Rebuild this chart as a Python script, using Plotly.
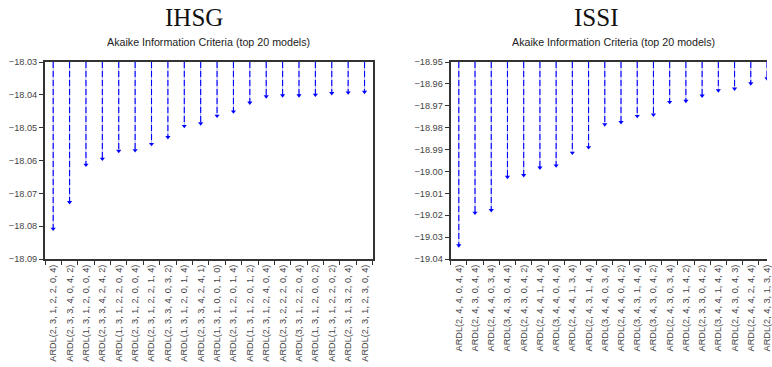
import plotly.graph_objects as go
from plotly.subplots import make_subplots

# ---------------- data ----------------
ihsg_models = [
    "ARDL(2, 3, 1, 2, 2, 0, 4)", "ARDL(2, 3, 3, 4, 0, 4, 2)", "ARDL(1, 3, 1, 2, 0, 0, 4)",
    "ARDL(2, 3, 3, 4, 2, 4, 2)", "ARDL(1, 3, 1, 2, 2, 0, 4)", "ARDL(2, 3, 1, 2, 0, 0, 4)",
    "ARDL(2, 3, 1, 2, 2, 1, 4)", "ARDL(2, 3, 3, 4, 0, 3, 2)", "ARDL(1, 3, 1, 2, 0, 1, 4)",
    "ARDL(2, 3, 3, 4, 2, 4, 1)", "ARDL(1, 3, 1, 0, 0, 1, 0)", "ARDL(2, 3, 1, 2, 0, 1, 4)",
    "ARDL(1, 3, 1, 2, 0, 1, 2)", "ARDL(2, 3, 1, 2, 4, 0, 4)", "ARDL(2, 3, 2, 2, 2, 0, 4)",
    "ARDL(3, 3, 1, 2, 2, 0, 4)", "ARDL(1, 3, 1, 2, 0, 0, 2)", "ARDL(1, 3, 1, 2, 2, 0, 2)",
    "ARDL(2, 3, 1, 3, 2, 0, 4)", "ARDL(2, 3, 1, 2, 3, 0, 4)",
]
ihsg_aic = [
    -18.0808, -18.0727, -18.0613, -18.0595, -18.0571, -18.0569, -18.0550, -18.0529,
    -18.0495, -18.0487, -18.0464, -18.0451, -18.0424, -18.0405, -18.0402, -18.0402,
    -18.0400, -18.0395, -18.0393, -18.0391,
]
ihsg_range = [-18.09, -18.03]

issi_models = [
    "ARDL(2, 4, 4, 0, 4, 4)", "ARDL(2, 4, 3, 0, 4, 4)", "ARDL(2, 4, 4, 0, 3, 4)",
    "ARDL(3, 4, 3, 0, 4, 4)", "ARDL(2, 4, 3, 0, 4, 2)", "ARDL(2, 4, 4, 1, 4, 4)",
    "ARDL(3, 4, 4, 0, 4, 4)", "ARDL(2, 4, 4, 1, 3, 4)", "ARDL(2, 4, 3, 1, 4, 4)",
    "ARDL(3, 4, 4, 0, 3, 4)", "ARDL(2, 4, 4, 0, 4, 2)", "ARDL(3, 4, 3, 1, 4, 4)",
    "ARDL(3, 4, 3, 0, 4, 2)", "ARDL(2, 4, 3, 0, 3, 4)", "ARDL(2, 4, 3, 1, 4, 2)",
    "ARDL(2, 3, 3, 0, 4, 2)", "ARDL(3, 4, 4, 1, 4, 4)", "ARDL(2, 4, 3, 0, 4, 3)",
    "ARDL(2, 4, 4, 2, 4, 4)", "ARDL(2, 4, 3, 1, 3, 4)",
]
issi_aic = [
    -19.0338, -19.0189, -19.0177, -19.0025, -19.0017, -18.9983, -18.9973, -18.9915,
    -18.9890, -18.9785, -18.9775, -18.9747, -18.9741, -18.9683, -18.9678, -18.9654,
    -18.9630, -18.9622, -18.9598, -18.9575,
]
issi_range = [-19.04, -18.95]

titles = ["IHSG", "ISSI"]
subtitle = "Akaike Information Criteria (top 20 models)"

# ---------------- figure ----------------
W, H = 772, 367
ML, MR, MT, MB = 45, 0, 62, 108
PW = W - ML - MR
PH = H - MT - MB


def px_x(p):
    return (p - ML) / PW


def px_y(p):
    return (H - MB - p) / PH


fig = make_subplots(rows=1, cols=2)

BLUE = "#0000FF"
LIGHT = "#A8A8FF"
for col, (cats, vals, rng) in enumerate(
    [(ihsg_models, ihsg_aic, ihsg_range), (issi_models, issi_aic, issi_range)], start=1
):
    sx, sy = [], []
    for c, v in zip(cats, vals):
        sx += [c, c, None]
        sy += [rng[1], v, None]
    fig.add_trace(
        go.Scatter(x=sx, y=sy, mode="lines",
                   line=dict(color=LIGHT, width=1),
                   hoverinfo="skip", showlegend=False),
        row=1, col=col,
    )
    fig.add_trace(
        go.Scatter(x=sx, y=sy, mode="lines",
                   line=dict(color=BLUE, width=1.1, dash="6px,3px"),
                   hoverinfo="skip", showlegend=False),
        row=1, col=col,
    )
    fig.add_trace(
        go.Scatter(x=cats, y=vals, mode="markers",
                   marker=dict(symbol="triangle-down", size=4.5, color=BLUE),
                   showlegend=False),
        row=1, col=col,
    )

axis_font = dict(family="Liberation Sans, Arial, sans-serif", size=9.2, color="#444444")

fig.update_layout(
    width=W, height=H,
    margin=dict(l=ML, r=MR, t=MT, b=MB),
    paper_bgcolor="white", plot_bgcolor="white",
    showlegend=False,
    xaxis=dict(domain=[0, px_x(375)], type="category", categoryorder="array",
               categoryarray=ihsg_models, range=[-0.5, 19.5],
               tickangle=-90, tickfont=axis_font, tickson="boundaries",
               ticks="outside", ticklen=4, tickcolor="#333333",
               showline=True, linecolor="#333333", linewidth=2, mirror=True,
               showgrid=False, zeroline=False),
    yaxis=dict(range=ihsg_range, dtick=0.01, tick0=-18.09, tickformat=".2f",
               tickfont=axis_font, ticks="outside", ticklen=4, tickcolor="#333333",
               showline=True, linecolor="#333333", linewidth=2, mirror=True,
               showgrid=False, zeroline=False),
    xaxis2=dict(domain=[px_x(453.5), 1], type="category", categoryorder="array",
                categoryarray=issi_models, range=[-0.5, 19.0],
                tickangle=-90, tickfont=axis_font, tickson="boundaries",
                ticks="outside", ticklen=4, tickcolor="#333333",
                showline=True, linecolor="#333333", linewidth=2, mirror=True,
                showgrid=False, zeroline=False),
    yaxis2=dict(range=issi_range, dtick=0.01, tick0=-19.04, tickformat=".2f",
                tickfont=axis_font, ticks="outside", ticklen=4, tickcolor="#333333",
                showline=True, linecolor="#333333", linewidth=2, mirror=False,
                showgrid=False, zeroline=False),
)

title_font = dict(family="Liberation Serif, Times New Roman, serif", size=25, color="#111111")
sub_font = dict(family="Liberation Sans, Arial, sans-serif", size=10.7, color="#222222")

for title, tx, sx_ in [(titles[0], 195, 210), (titles[1], 600, 617)]:
    fig.add_annotation(text=title, xref="paper", yref="paper",
                       x=px_x(tx), y=px_y(17), xanchor="center", yanchor="middle",
                       showarrow=False, font=title_font)
    fig.add_annotation(text=subtitle, xref="paper", yref="paper",
                       x=px_x(sx_), y=px_y(42), xanchor="center", yanchor="middle",
                       showarrow=False, font=sub_font)

fig.write_html(
    "out.html",
    config={"displayModeBar": False},
    post_script="document.body.style.margin='0';document.body.style.overflow='hidden';",
)
